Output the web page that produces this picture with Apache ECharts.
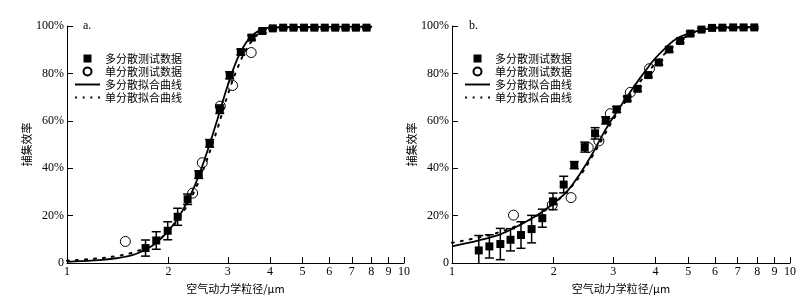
<!DOCTYPE html>
<html><head><meta charset="utf-8">
<script src="https://cdn.jsdelivr.net/npm/echarts@6/dist/echarts.min.js"></script>
<style>html,body{margin:0;padding:0;background:#fff}#c{width:809px;height:302px}</style>
</head><body><div id="c"></div>
<script>
// ---------- data ----------
const xTicks = [1, 2, 3, 4, 5, 6, 7, 8, 9, 10];
const yTicks = [0, 20, 40, 60, 80, 100];
const names = ['多分散测试数据', '单分散测试数据', '多分散拟合曲线', '单分散拟合曲线'];
const panelLabels = ['a.', 'b.'];
const xName = '空气动力学粒径/μm';
const yName = '捕集效率';

// panel a
const aPolyX = [1.71, 1.84, 1.99, 2.13, 2.28, 2.46, 2.65, 2.84, 3.04, 3.28, 3.53, 3.80, 4.08, 4.38, 4.70, 5.05, 5.42, 5.82, 6.25, 6.71, 7.20, 7.74];
const aPolyY = [6.3, 9.5, 13.6, 19.5, 26.9, 37.3, 50.5, 64.9, 79.2, 89.0, 95.1, 97.9, 99.0, 99.3, 99.3, 99.3, 99.3, 99.3, 99.3, 99.3, 99.3, 99.3];
const aPolyErr = [3.4, 3.7, 3.8, 3.6, 2.2, 1.6, 1.6, 1.8, 1.5, 1.2, 1.0, 0.8, 0.6, 0.5, 0.5, 0.5, 0.5, 0.5, 0.5, 0.5, 0.5, 0.5];
const aMonoX = [1.49, 2.36, 2.52, 2.85, 3.10, 3.52];
const aMonoY = [9.1, 29.5, 42.3, 66.2, 74.9, 88.8];
const aFitPolyX = [1.0, 1.2, 1.4, 1.6, 1.8, 2.0, 2.2, 2.4, 2.6, 2.8, 3.0, 3.2, 3.4, 3.6, 3.8, 4.0, 5.0, 8.0];
const aFitPolyY = [0.5, 1.1, 2.0, 3.8, 7.5, 13.5, 22.0, 33.0, 46.5, 61.0, 75.0, 86.0, 93.0, 96.8, 98.6, 99.3, 99.6, 99.7];
const aFitMonoX = [1.0, 1.2, 1.4, 1.6, 1.8, 2.0, 2.2, 2.4, 2.6, 2.8, 3.0, 3.2, 3.4, 3.6, 3.8, 4.0, 5.0, 8.0];
const aFitMonoY = [1.0, 1.8, 2.9, 4.8, 8.3, 13.5, 21.0, 31.0, 43.5, 57.0, 71.0, 82.0, 90.0, 95.0, 98.0, 99.2, 99.6, 99.7];

// panel b
const bPolyX = [1.20, 1.29, 1.39, 1.49, 1.60, 1.72, 1.85, 1.99, 2.14, 2.30, 2.47, 2.65, 2.85, 3.07, 3.30, 3.54, 3.81, 4.09, 4.39, 4.73, 5.07, 5.47, 5.88, 6.31, 6.79, 7.29, 7.84];
const bPolyY = [5.3, 7.0, 8.0, 9.8, 11.8, 14.3, 18.9, 26.0, 33.1, 41.3, 48.9, 54.7, 60.2, 64.8, 69.3, 73.5, 79.3, 84.6, 90.1, 93.7, 96.8, 98.5, 99.2, 99.3, 99.4, 99.4, 99.4];
const bPolyErr = [6.3, 4.9, 6.6, 4.7, 5.6, 5.8, 3.8, 3.5, 3.5, 1.5, 2.1, 2.4, 1.5, 1.2, 1.0, 1.0, 1.0, 1.0, 1.0, 0.8, 0.8, 0.6, 0.5, 0.5, 0.5, 0.5, 0.5];
const bMonoX = [1.52, 1.98, 2.25, 2.53, 2.72, 2.94, 3.37, 3.84];
const bMonoY = [20.2, 24.5, 27.6, 48.7, 51.5, 63.0, 72.0, 82.0];
const bFitPolyX = [1.0, 1.2, 1.4, 1.6, 1.8, 2.0, 2.2, 2.4, 2.6, 2.8, 3.0, 3.2, 3.4, 3.6, 3.8, 4.0, 4.3, 4.6, 5.0, 5.4, 6.0, 8.0];
const bFitPolyY = [7.0, 9.5, 12.3, 16.3, 20.5, 25.2, 30.5, 38.0, 46.0, 54.5, 61.5, 67.5, 73.0, 78.0, 82.5, 86.5, 91.0, 94.5, 96.8, 98.2, 99.2, 99.6];
const bFitMonoX = [1.0, 1.2, 1.4, 1.6, 1.8, 2.0, 2.2, 2.4, 2.6, 2.8, 3.0, 3.2, 3.4, 3.6, 3.8, 4.0, 4.3, 4.6, 5.0, 5.4, 6.0, 8.0];
const bFitMonoY = [8.5, 10.8, 13.3, 16.5, 20.3, 25.0, 30.5, 37.0, 45.0, 53.0, 60.5, 66.5, 72.0, 76.5, 80.5, 84.3, 88.8, 92.5, 96.0, 98.0, 99.0, 99.5];

// ---------- build ----------
const panels = [
  {polyX: aPolyX, polyY: aPolyY, polyErr: aPolyErr, monoX: aMonoX, monoY: aMonoY,
   fpX: aFitPolyX, fpY: aFitPolyY, fmX: aFitMonoX, fmY: aFitMonoY},
  {polyX: bPolyX, polyY: bPolyY, polyErr: bPolyErr, monoX: bMonoX, monoY: bMonoY,
   fpX: bFitPolyX, fpY: bFitPolyY, fmX: bFitMonoX, fmY: bFitMonoY}
];
const zip = (xs, ys) => xs.map((x, i) => [x, ys[i]]);
const serif = 'Liberation Serif';
const cjk = 'Noto Sans CJK SC';

function errItem(params, api) {
  const x = api.value(0), y = api.value(1), e = api.value(2);
  const p1 = api.coord([x, y + e]), p2 = api.coord([x, y - e]);
  const w = 4.5;
  const st = {stroke: '#000', lineWidth: 1.5};
  return {type: 'group', children: [
    {type: 'line', shape: {x1: p1[0], y1: p1[1], x2: p2[0], y2: p2[1]}, style: st},
    {type: 'line', shape: {x1: p1[0] - w, y1: p1[1], x2: p1[0] + w, y2: p1[1]}, style: st},
    {type: 'line', shape: {x1: p2[0] - w, y1: p2[1], x2: p2[0] + w, y2: p2[1]}, style: st}
  ]};
}

const grids = [
  {left: 67, right: 405, top: 26, bottom: 39},
  {left: 452, right: 19, top: 26, bottom: 39}
];
const legendLeft = [75, 465];
const titleLeft = [83, 469];
const solidIcon = 'path://M0,0H26V2H0Z';
const dotIcon = 'path://M0,0h2v2h-2zM8,0h2v2h-2zM16,0h2v2h-2zM24,0h2v2h-2z';

const xAxes = [], yAxes = [], series = [], legends = [], titles = [];
panels.forEach((p, i) => {
  xAxes.push({
    type: 'log', logBase: 10, min: 1, max: 10, gridIndex: i,
    name: xName, nameLocation: 'middle', nameGap: 13,
    nameTextStyle: {fontFamily: cjk, fontSize: 11, color: '#000'},
    axisLine: {lineStyle: {color: '#000', width: 1}},
    axisTick: {inside: true, length: 6, customValues: xTicks, lineStyle: {color: '#000'}},
    minorTick: {show: false},
    axisLabel: {customValues: xTicks, margin: 3, color: '#000', fontFamily: serif, fontSize: 12,
      formatter: v => String(Math.round(v))},
    splitLine: {show: false}
  });
  yAxes.push({
    type: 'value', min: 0, max: 100, interval: 20, gridIndex: i,
    name: yName, nameLocation: 'middle', nameGap: 33, nameRotate: 90,
    nameTextStyle: {fontFamily: cjk, fontSize: 11, color: '#000'},
    axisLine: {show: true, lineStyle: {color: '#000', width: 1}},
    axisTick: {show: true, inside: true, length: 6, lineStyle: {color: '#000'}},
    axisLabel: {margin: 3, color: '#000', fontFamily: serif, fontSize: 12,
      customValues: yTicks,
      formatter: v => v === 0 ? '0' : v + '%'},
    splitLine: {show: false}
  });
  series.push({
    type: 'line', name: names[2], xAxisIndex: i, yAxisIndex: i,
    data: zip(p.fpX, p.fpY), smooth: 0.4, symbol: 'none', showSymbol: false,
    lineStyle: {color: '#000', width: 1.8}, itemStyle: {color: '#000'}, z: 2
  });
  series.push({
    type: 'line', name: names[3], xAxisIndex: i, yAxisIndex: i,
    data: zip(p.fmX, p.fmY), smooth: 0.4, symbol: 'none', showSymbol: false,
    lineStyle: {color: '#000', width: 2, type: [2, 7], cap: 'round'}, itemStyle: {color: '#000'}, z: 2
  });
  series.push({
    type: 'custom', name: 'err' + i, xAxisIndex: i, yAxisIndex: i,
    data: p.polyX.map((x, k) => [x, p.polyY[k], p.polyErr[k]]),
    encode: {x: 0, y: 1}, renderItem: errItem, clip: true, z: 3
  });
  series.push({
    type: 'scatter', name: names[0], xAxisIndex: i, yAxisIndex: i,
    data: zip(p.polyX, p.polyY), symbol: 'rect', symbolSize: 8,
    itemStyle: {color: '#000', opacity: 1}, z: 4
  });
  series.push({
    type: 'scatter', name: names[1], xAxisIndex: i, yAxisIndex: i,
    data: zip(p.monoX, p.monoY), symbol: 'circle', symbolSize: 10,
    itemStyle: {color: 'rgba(255,255,255,0)', borderColor: '#000', borderWidth: 1, opacity: 1}, z: 5
  });
  legends.push({
    left: legendLeft[i], top: 53, orient: 'vertical', itemGap: 2,
    itemWidth: 25, itemHeight: 8, padding: 0,
    textStyle: {fontFamily: cjk, fontSize: 11, lineHeight: 11, color: '#000'},
    data: [
      {name: names[0], icon: 'path://M0,0H10V10H0Z'},
      {name: names[1], icon: 'circle'},
      {name: names[2], icon: solidIcon, itemStyle: {color: '#000', borderWidth: 0}},
      {name: names[3], icon: dotIcon, itemStyle: {color: '#000', borderWidth: 0}}
    ]
  });
  titles.push({
    text: panelLabels[i], left: titleLeft[i], top: 20, padding: 0,
    textStyle: {fontFamily: serif, fontSize: 12, fontWeight: 'normal', color: '#000'}
  });
});

const chart = echarts.init(document.getElementById('c'), null, {renderer: 'canvas'});
chart.setOption({
  animation: false,
  backgroundColor: '#fff',
  title: titles,
  legend: legends,
  grid: grids,
  xAxis: xAxes,
  yAxis: yAxes,
  series: series
});
</script>
</body></html>
